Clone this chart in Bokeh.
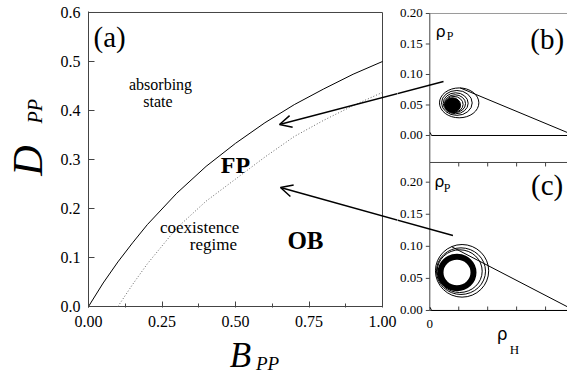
from bokeh.plotting import figure
from bokeh.layouts import row, column
from bokeh.models import (Label, Arrow, OpenHead, FixedTicker, Range1d,
                          NumeralTickFormatter)
from bokeh.core.properties import value
from bokeh.embed import file_html
from bokeh.resources import INLINE

SERIF = "Liberation Serif"
SANS = "DejaVu Sans"
AX = "#444444"

# ---------------- panel (a) data ----------------
b_solid = [0.0, 0.05, 0.1, 0.15, 0.2, 0.3, 0.4, 0.5, 0.6, 0.7, 0.8, 0.9, 1.0]
d_solid = [0.0, 0.048, 0.091, 0.13, 0.167, 0.231, 0.286, 0.333, 0.375, 0.412, 0.444, 0.474, 0.5]
b_dotted = [0.1, 0.15, 0.2, 0.3, 0.4, 0.5, 0.6, 0.7, 0.8, 0.9, 1.0]
d_dotted = [0.0, 0.045, 0.087, 0.16, 0.215, 0.26, 0.305, 0.347, 0.38, 0.41, 0.437]
a_xticks = [0.0, 0.25, 0.5, 0.75, 1.0]
a_xminor = [0.125, 0.375, 0.625, 0.875]
a_yticks = [0.0, 0.1, 0.2, 0.3, 0.4, 0.5, 0.6]
a_xmax, a_ymax = 1.0, 0.6

# ---------------- panel (b) data ----------------
b_traj_h = [0.002, 0.012, 1.0, 0.21]
b_traj_p = [0.005, 0.0, 0.0, 0.078]
b_loop_x = [0.203, 0.187, 0.179, 0.1745, 0.167]
b_loop_y = [0.0535, 0.0534, 0.0528, 0.0522, 0.051]
b_loop_w = [0.272, 0.212, 0.172, 0.145, 0.126]
b_loop_h = [0.049, 0.0408, 0.0344, 0.029, 0.026]
b_fix_x, b_fix_y, b_fix_w, b_fix_h = [0.158], [0.0497], [0.109], [0.024]

# ---------------- panel (c) data ----------------
c_traj_h = [0.002, 0.012, 1.0, 0.15]
c_traj_p = [0.005, 0.0, 0.0, 0.0995]
c_loop_x = [0.223, 0.2155, 0.2065]
c_loop_y = [0.0618, 0.0613, 0.0613]
c_loop_w = [0.368, 0.339, 0.311]
c_loop_h = [0.082, 0.0727, 0.0666]
c_cyc_x, c_cyc_y, c_cyc_w, c_cyc_h = [0.188], [0.0592], [0.228], [0.049]

rho_ticks = [0.0, 0.05, 0.10, 0.15, 0.20]
rho_labels = ["%.2f" % v for v in rho_ticks]
h_minor = [0.2, 0.4, 0.6, 0.8]
b_rho_min, b_rho_max = -0.0443, 0.20      # extent of panel (b) frame
c_rho_min, c_rho_max = 0.0, 0.2307        # extent of panel (c) frame
h_max = 0.9516                            # visible part of the rho_H axis


def lab(p, x, y, text, size, font=SERIF, style="normal", align="center",
        baseline="middle", angle=0.0, yr="default"):
    p.add_layout(Label(x=x, y=y, text=text, text_font=font,
                       text_font_size=size, text_font_style=style,
                       text_align=align, text_baseline=baseline,
                       angle=angle, text_color="black", y_range_name=yr))


def blank(width, height, xr, yr):
    p = figure(width=width, height=height, x_range=xr, y_range=yr,
               output_backend="svg", toolbar_location=None,
               x_axis_location=None, y_axis_location=None,
               min_border_left=0, min_border_right=0, min_border_top=0,
               min_border_bottom=0)
    p.grid.visible = False
    p.outline_line_color = None
    return p


# ================= axis title strips =================
pl = blank(50, 374, Range1d(0, 50), Range1d(374, 0))
lab(pl, 27, 160, "D", "42px", style="italic", angle=1.5708)
lab(pl, 34.2, 110.8, "PP", "20px", style="italic", angle=1.5708)

# the strip below panel (a) shares its frame alignment (frame x = 88 .. 397)
pbot = blank(347, 40, Range1d(88, 397), Range1d(374, 334))
lab(pbot, 240, 355, "B", "35px", style="italic")
lab(pbot, 267, 363, "PP", "19px", style="italic")

# ================= panel (a) =================
pa = figure(width=347, height=334, x_range=Range1d(0, 1.05102),
            y_range=Range1d(-0.00204, 0.60204),
            output_backend="svg", toolbar_location=None,
            min_border_left=38, min_border_right=0, min_border_top=11,
            min_border_bottom=27)
pa.grid.visible = False
pa.outline_line_color = None

xa = pa.xaxis[0]
xa.ticker = FixedTicker(ticks=a_xticks, minor_ticks=a_xminor)
xa.formatter = NumeralTickFormatter(format="0.00")
xa.axis_line_color = None
ya = pa.yaxis[0]
ya.ticker = FixedTicker(ticks=a_yticks, minor_ticks=[])
ya.formatter = NumeralTickFormatter(format="0.0")
ya.axis_line_color = AX
for ax, st in ((xa, 8), (ya, 8)):
    ax.major_tick_line_color = AX
    ax.minor_tick_line_color = AX
    ax.major_tick_in = 6
    ax.major_tick_out = 0
    ax.minor_tick_in = 4
    ax.minor_tick_out = 0
    ax.major_label_standoff = st
    ax.major_label_text_font = SERIF
    ax.major_label_text_font_size = "16px"
    ax.major_label_text_color = "black"

# frame of panel (a): bottom, top and right edges
pa.segment(x0=[0.0, 0.0, a_xmax], y0=[0.0, a_ymax, 0.0],
           x1=[a_xmax, a_xmax, a_xmax], y1=[0.0, a_ymax, a_ymax],
           line_color=AX, line_width=1)

pa.line(b_solid, d_solid, line_color="black", line_width=1)
pa.line(b_dotted, d_dotted, line_color="#666666", line_width=1, line_dash="1 2")

lab(pa, 0.017, 0.549, "(a)", "29px", align="left")
lab(pa, 0.245, 0.4539, "absorbing", "16px")
lab(pa, 0.236, 0.4178, "state", "16px")
lab(pa, 0.5, 0.2888, "FP", "24px", style="bold")
lab(pa, 0.378, 0.1622, "coexistence", "17px")
lab(pa, 0.425, 0.1261, "regime", "17px")
lab(pa, 0.738, 0.1351, "OB", "25px", style="bold")

pa.add_layout(Arrow(end=OpenHead(size=12, line_width=1.5, line_color="black"),
                    x_start=1.0782, y_start=0.4388, x_end=0.6497, y_end=0.3714,
                    line_width=1.5, line_color="black"))
pa.add_layout(Arrow(end=OpenHead(size=12, line_width=1.5, line_color="black"),
                    x_start=1.0782, y_start=0.1718, x_end=0.653, y_end=0.2429,
                    line_width=1.5, line_color="black"))

# ================= panels (b) and (c): one shared drawing area =================
pr = blank(170, 374, Range1d(-0.2232, h_max), Range1d(-0.0998, 0.4832))
pr.extra_y_ranges = {"yb": Range1d(-0.3918, 0.2213)}

tick_len_h = 0.0276      # 4 px along rho_H
lab_off_h = 0.048        # tick label offset along rho_H


def left_axis(yr, lo, hi):
    pr.segment(x0=[0.0], y0=[lo], x1=[0.0], y1=[hi], line_color=AX,
               line_width=1, y_range_name=yr)
    pr.segment(x0=[0.0] * len(rho_ticks), y0=rho_ticks,
               x1=[-tick_len_h] * len(rho_ticks), y1=rho_ticks,
               line_color=AX, line_width=1, y_range_name=yr)
    pr.text(x=[-lab_off_h] * len(rho_ticks), y=rho_ticks, text=rho_labels,
            text_font=value(SERIF), text_font_size=value("13px"),
            text_align="right", text_baseline="middle", text_color="black",
            y_range_name=yr)


# (b) frame
pr.segment(x0=[0.0], y0=[b_rho_max], x1=[h_max], y1=[b_rho_max],
           line_color="#9a9a9a", line_width=1, y_range_name="yb")
left_axis("yb", b_rho_min, b_rho_max)
# (c) frame
left_axis("default", c_rho_min, c_rho_max)
pr.segment(x0=[0.0], y0=[c_rho_max], x1=[h_max], y1=[c_rho_max],
           line_color=AX, line_width=1)
pr.segment(x0=[0.0], y0=[c_rho_min], x1=[h_max], y1=[c_rho_min],
           line_color=AX, line_width=1)
pr.segment(x0=h_minor, y0=[c_rho_max] * 4, x1=h_minor, y1=[c_rho_max - 0.0062] * 4,
           line_color=AX, line_width=1)
pr.segment(x0=h_minor, y0=[c_rho_min] * 4, x1=h_minor, y1=[c_rho_min + 0.0062] * 4,
           line_color=AX, line_width=1)
pr.text(x=[0.0], y=[-0.0203], text=["0"], text_font=value(SERIF),
        text_font_size=value("13px"), text_align="center", text_baseline="middle",
        text_color="black")

# (b) trajectory
pr.line(b_traj_h, b_traj_p, line_color="black", line_width=1, y_range_name="yb")
pr.ellipse(x=b_loop_x, y=b_loop_y, width=b_loop_w, height=b_loop_h,
           fill_color=None, line_color="black", line_width=1, y_range_name="yb")
pr.ellipse(x=b_fix_x, y=b_fix_y, width=b_fix_w, height=b_fix_h,
           fill_color="black", line_color="black", line_width=1, y_range_name="yb")
lab(pr, 0.074, 0.1705, "ρ", "16px", font=SANS, yr="yb")
lab(pr, 0.1396, 0.1626, "P", "12px", yr="yb")
lab(pr, 0.694, 0.1574, "(b)", "29px", align="left", yr="yb")

# (c) trajectory
pr.line(c_traj_h, c_traj_p, line_color="black", line_width=1)
pr.ellipse(x=c_loop_x, y=c_loop_y, width=c_loop_w, height=c_loop_h,
           fill_color=None, line_color="black", line_width=1)
pr.ellipse(x=c_cyc_x, y=c_cyc_y, width=c_cyc_w, height=c_cyc_h,
           fill_color=None, line_color="black", line_width=6)
lab(pr, 0.065, 0.2011, "ρ", "16px", font=SANS)
lab(pr, 0.12, 0.1914, "P", "12px")
lab(pr, 0.70, 0.1949, "(c)", "29px", align="left")
lab(pr, 0.5003, -0.0374, "ρ", "17px", font=SANS)
lab(pr, 0.5853, -0.0611, "H", "13px")

# arrow tails (continuing the arrows drawn in panel (a))
pr.add_layout(Arrow(end=None, x_start=0.0947, y_start=0.357, x_end=-0.2716, y_end=0.3353,
                    line_width=1.5, line_color="black"))
pr.add_layout(Arrow(end=None, x_start=0.160, y_start=0.1169, x_end=-0.2716, y_end=0.1440,
                    line_width=1.5, line_color="black"))

layout = row(pl, column(pa, pbot), pr)
open("out.html", "w").write(file_html(layout, INLINE))
